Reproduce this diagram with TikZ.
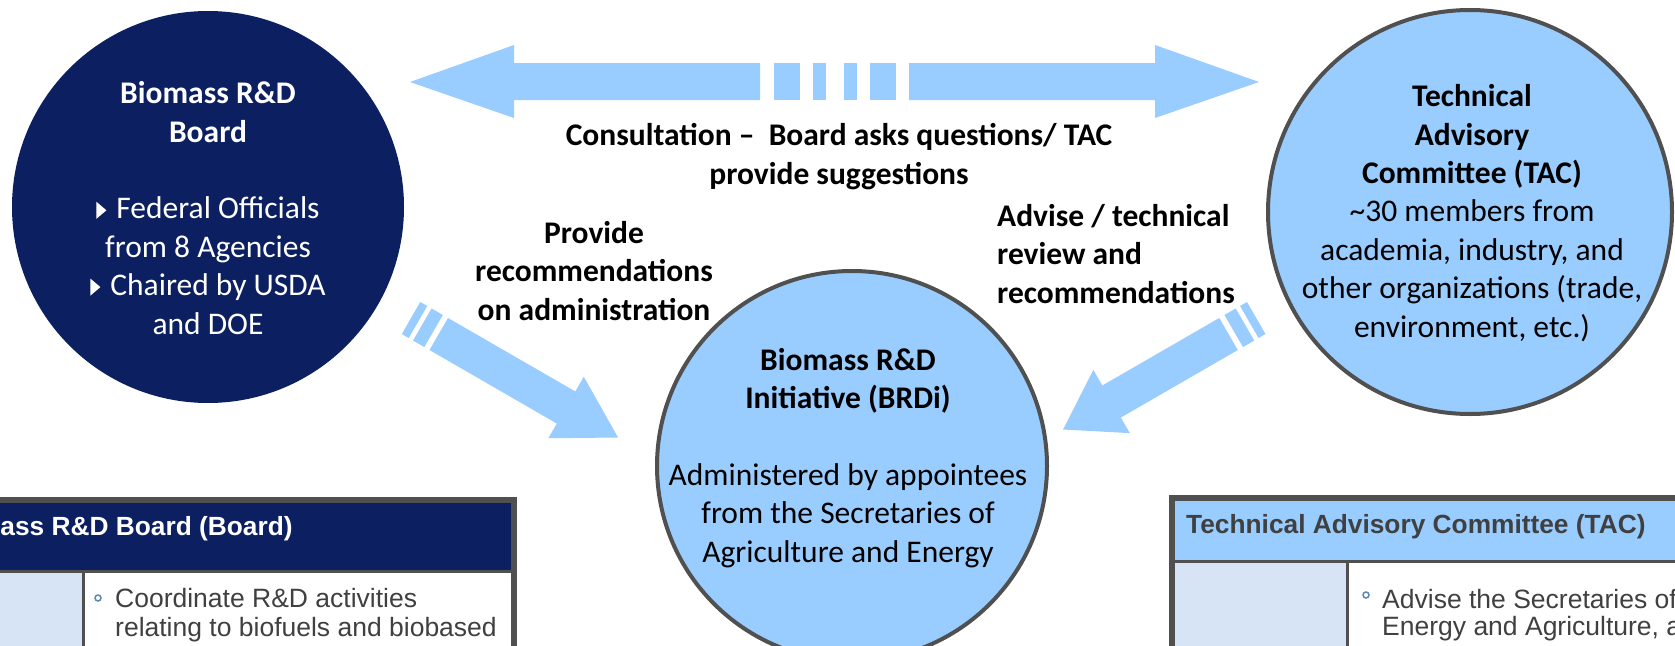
\documentclass[tikz,border=0pt]{standalone}
\usepackage{fontspec}
\setmainfont{Carlito}
\newfontfamily\arialf{Liberation Sans}
\definecolor{navy}{RGB}{12,31,96}
\definecolor{lblue}{RGB}{153,204,255}
\definecolor{pale}{RGB}{214,228,245}
\definecolor{rim}{RGB}{80,80,80}
\definecolor{tgray}{RGB}{64,64,64}
\definecolor{bulc}{RGB}{95,135,180}
\newcommand{\tribul}{\tikz[baseline=0pt]\fill[white] (0pt,0pt) -- (0pt,17pt) -- (10pt,8.5pt) -- cycle;\hspace{10pt}}
\begin{document}
\begin{tikzpicture}[x=1pt,y=-1pt,
  circtext/.style={font=\fontsize{31.5}{38.4}\selectfont, align=center, inner sep=0pt, anchor=base},
  lbl/.style={font=\bfseries\fontsize{31.5}{38.4}\selectfont, inner sep=0pt, anchor=base},
  arrowfill/.style={fill=lblue},
  tabhead/.style={font=\arialf\bfseries\fontsize{26.3}{30}\selectfont, inner sep=0pt, anchor=base west},
  tabbody/.style={font=\arialf\fontsize{26.5}{29}\selectfont, text=tgray, align=left, inner sep=0pt, anchor=base west},
  bulring/.style={draw=bulc, line width=1.5pt, fill=white},
  ring/.style={circle, draw=rim, line width=4pt, fill=lblue, inner sep=0pt},
]
\useasboundingbox (0,0) rectangle (1675,645);
\clip (0,0) rectangle (1675,645);
\fill[white] (0,0) rectangle (1675,645);

% circles
\node[circle, fill=navy, minimum size=392pt, inner sep=0pt] (board) at (208,207) {};
\node[ring, minimum size=404pt] (tac) at (1470,212) {};
\node[ring, minimum size=390pt] (brdi) at (852,466) {};

% circle texts (anchor = baseline of last line)
\node[circtext, text=white] (boardt) at (208,334) {\textbf{Biomass R\&D}\\\textbf{Board}\\[38.4pt]\tribul Federal Officials\\from 8 Agencies\\\tribul Chaired by USDA\\and DOE};
\node[circtext] (tact) at (1472,337) {\textbf{Technical}\\\textbf{Advisory}\\\textbf{Committee (TAC)}\\\textasciitilde30 members from\\academia, industry, and\\other organizations (trade,\\environment, etc.)};
\node[circtext] (brdit) at (848,562) {\textbf{Biomass R\&D}\\\textbf{Initiative (BRDi)}\\[38.4pt]Administered by appointees\\from the Secretaries of\\Agriculture and Energy};

% labels
\node[lbl, align=center] (consult) at (839,184) {Consultation --\ \ Board asks questions/ TAC\\provide suggestions};
\node[lbl, align=center] (provide) at (594,320) {Provide\\recommendations\\on administration};
\node[lbl, align=left, anchor=base west] (advise) at (997,303) {Advise / technical\\review and\\recommendations};

% top double arrow
\coordinate (tl) at (410,82);
\coordinate (tr) at (1259,82);
\fill[arrowfill] (tl) -- (514,45) -- (514,63) -- (760,63) -- (760,100) -- (514,100) -- (514,118) -- cycle;
\fill[arrowfill] (774,63) rectangle (800,100);
\fill[arrowfill] (813,63) rectangle (826,100);
\fill[arrowfill] (844,63) rectangle (857,100);
\fill[arrowfill] (870,63) rectangle (896,100);
\fill[arrowfill] (tr) -- (1155,45) -- (1155,63) -- (909,63) -- (909,100) -- (1155,100) -- (1155,118) -- cycle;

% diagonal arrow board -> BRDi
\coordinate (d1) at (438.75,334);
\begin{scope}[shift={(d1)}, rotate=-30]
  \fill[arrowfill] (0,-18.5) -- (147,-18.5) -- (147,-35.5) -- (207,0) -- (147,35.5) -- (147,18.5) -- (0,18.5) -- cycle;
  \fill[arrowfill] (-19,-18.5) rectangle (-6,18.5);
  \fill[arrowfill] (-32,-18.5) rectangle (-24,18.5);
\end{scope}

% diagonal arrow TAC -> BRDi
\coordinate (d2) at (1228.5,334);
\begin{scope}[shift={(d2)}, rotate=210]
  \fill[arrowfill] (0,-18.5) -- (135,-18.5) -- (135,-36.5) -- (191,0) -- (135,36.5) -- (135,18.5) -- (0,18.5) -- cycle;
  \fill[arrowfill] (-19,-18.5) rectangle (-6,18.5);
  \fill[arrowfill] (-32,-18.5) rectangle (-24,18.5);
\end{scope}

% left table
\fill[rim] (-10,496.5) rectangle (517,660);
\fill[navy] (-10,502.5) rectangle (510.5,570);
\fill[pale] (-10,573) rectangle (82,660);
\fill[white] (85,573) rectangle (510.5,660);
\node[tabhead, text=white] (lhead) at (-65.5,535) {Biomass R\&D Board (Board)};
\draw[bulring] (98,598) circle (3pt);
\node[tabbody] (lbody) at (115,636) {Coordinate R\&D activities\\relating to biofuels and biobased};

% right table
\fill[rim] (1169,495) rectangle (1690,660);
\fill[lblue] (1175,501) rectangle (1690,560);
\fill[pale] (1175,563) rectangle (1346,660);
\fill[white] (1349,563) rectangle (1690,660);
\node[tabhead, text=tgray] (rhead) at (1186,533) {Technical Advisory Committee (TAC)};
\draw[bulring] (1366,595) circle (3pt);
\node[tabbody, font=\arialf\fontsize{26.5}{27}\selectfont] (rbody) at (1382,635) {Advise the Secretaries of\\Energy and Agriculture, and};
\end{tikzpicture}
\end{document}
